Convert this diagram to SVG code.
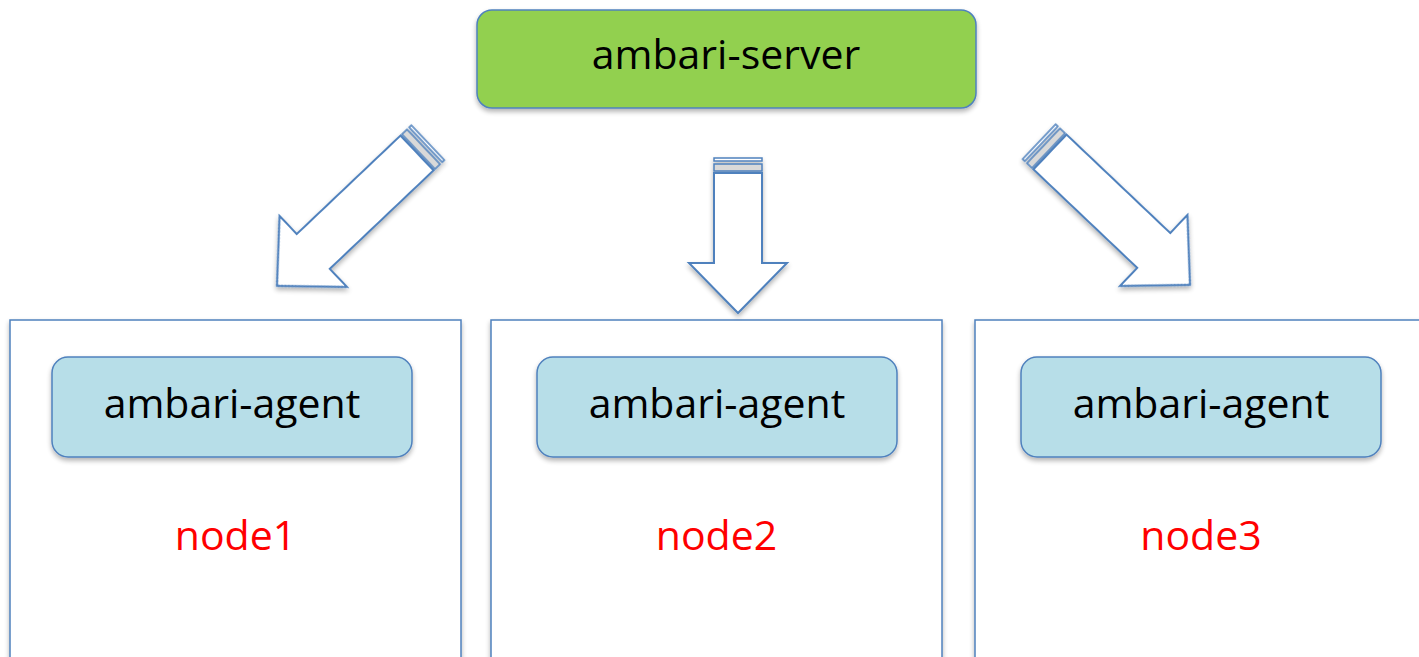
<svg xmlns="http://www.w3.org/2000/svg" width="1419" height="657" viewBox="0 0 1419 657">
<style>
.lbl{font-family:"Open Sans","Liberation Sans",sans-serif;font-size:41px;text-anchor:middle;fill:#000}
.red{fill:#FF0000}
.host{fill:#fff;stroke:#4F81BD;stroke-width:1.5}
.agent{fill:#B7DEE8;stroke:#4F81BD;stroke-width:1.5}
.server{fill:#92D050;stroke:#4F81BD;stroke-width:1.5}
.arr{fill:#fff;stroke:#4F81BD;stroke-width:2;stroke-linejoin:miter}
.stripe{fill:#fff;stroke:#4F81BD;stroke-width:1.5}
.stripe2{fill:#D9D9D9;stroke:#4F81BD;stroke-width:1.5}
</style>
<defs>
<filter id="sh" x="-10%" y="-10%" width="120%" height="130%">
<feGaussianBlur in="SourceAlpha" stdDeviation="2.5"/>
<feOffset dx="0" dy="3" result="b"/>
<feComponentTransfer><feFuncA type="linear" slope="0.3"/></feComponentTransfer>
<feMerge><feMergeNode/><feMergeNode in="SourceGraphic"/></feMerge>
</filter>
</defs>
<g id="node1">
<rect class="host" x="10" y="320" width="451" height="400" filter="url(#sh)"/>
<text class="lbl red" x="235.5" y="550">node1</text>
</g>
<g id="node2">
<rect class="host" x="491" y="320" width="451" height="400" filter="url(#sh)"/>
<text class="lbl red" x="716.5" y="550">node2</text>
</g>
<g id="node3">
<rect class="host" x="975" y="320" width="451" height="400" filter="url(#sh)"/>
<text class="lbl red" x="1201" y="550">node3</text>
</g>
<g id="agent1">
<rect class="agent" x="52" y="357" width="360" height="100" rx="16" filter="url(#sh)"/>
<text class="lbl" x="232" y="418">ambari-agent</text>
</g>
<g id="agent2">
<rect class="agent" x="537" y="357" width="360" height="100" rx="16" filter="url(#sh)"/>
<text class="lbl" x="717" y="418">ambari-agent</text>
</g>
<g id="agent3">
<rect class="agent" x="1021" y="357" width="360" height="100" rx="16" filter="url(#sh)"/>
<text class="lbl" x="1201" y="418">ambari-agent</text>
</g>
<g id="server">
<rect class="server" x="477" y="10" width="499" height="98" rx="15" filter="url(#sh)"/>
<text class="lbl" x="726" y="69">ambari-server</text>
</g>
<defs>
<g id="arrowL">
<rect class="stripe" x="-24" y="-15" width="48" height="3"/>
<rect class="stripe2" x="-24" y="-9" width="48" height="7"/>
</g>
</defs>
<g id="connectors" filter="url(#sh)">
<g transform="translate(738,173)">
<use href="#arrowL"/>
<polygon class="arr" points="-24,0 24,0 24,90 49,90 0,140 -49,90 -24,90"/>
</g>
<g transform="translate(417,153) rotate(46.5)">
<use href="#arrowL"/>
<polygon class="arr" points="-24,0 24,0 24,143 49,143 0,193 -49,143 -24,143"/>
</g>
<g transform="translate(1050,152) rotate(-46.5)">
<use href="#arrowL"/>
<polygon class="arr" points="-24,0 24,0 24,143 49,143 0,193 -49,143 -24,143"/>
</g>
</g>
</svg>
